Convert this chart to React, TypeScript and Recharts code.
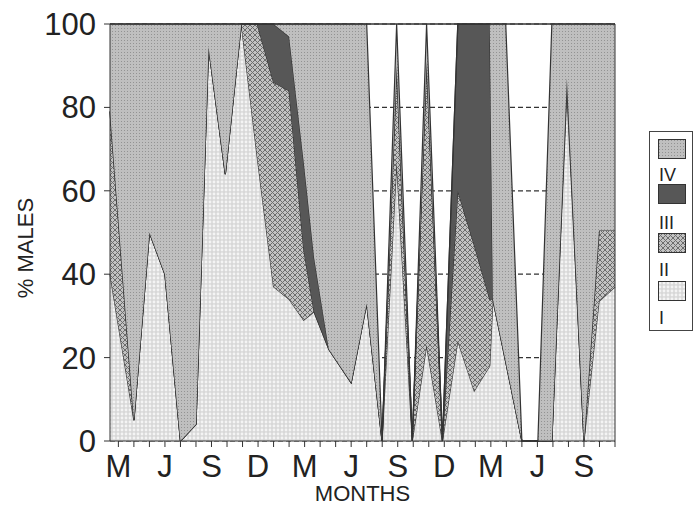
import React from 'react';
import { AreaChart, Area, XAxis, YAxis, CartesianGrid, ReferenceLine, Label } from 'recharts';

// sample positions in months from the first March tick (irregular sampling dates)
const monthPos = [-0.54, 1, 2, 3, 4, 5, 5.81, 6.89, 7.92, 8.95, 10, 11, 11.94, 12.61, 13.56, 15, 16, 16.99, 17.93, 18.94, 19.86, 20.88, 21.87, 22.93, 23.93, 24.13, 24.96, 26, 27.03, 27.93, 28.9, 30, 30.97, 32];
// % males per age class (stacked)
const seriesI   = [40, 5, 50, 40, 0, 4, 94.5, 64, 100, 68, 37, 34, 29, 31, 22, 14, 33, 0, 67, 0, 23, 0, 24, 12, 18, 34, 19, 0, 0, 0, 84, 0, 33.5, 37];
const seriesII  = [39, 0, 0, 0, 0, 0, 0, 0, 0, 32, 49, 50, 17, 0, 0, 0, 0, 0, 23, 0, 68, 0, 36, 35, 16, 0, 0, 0, 0, 0, 3, 0, 17, 13.5];
const seriesIII = [0, 0, 0, 0, 0, 0, 0, 0, 0, 0, 14, 13, 21, 13, 0, 0, 0, 0, 0, 0, 0, 0, 40, 53, 66, 0, 0, 0, 0, 0, 0, 0, 0, 0];
const seriesIV  = [21, 95, 50, 60, 100, 96, 5.5, 36, 0, 0, 0, 3, 33, 56, 78, 86, 67, 0, 10, 0, 9, 0, 0, 0, 0, 66, 81, 0, 0, 100, 13, 100, 49.5, 49.5];

const monthTicks = [0, 1, 2, 3, 4, 5, 6, 7, 8, 9, 10, 11, 12, 13, 14, 15, 16, 17, 18, 19, 20, 21, 22, 23, 24, 25, 26, 27, 28, 29, 30, 31, 32];
const monthLabels = ['M', 'J', 'S', 'D', 'M', 'J', 'S', 'D', 'M', 'J', 'S'];
const yTicks = [0, 20, 40, 60, 80, 100];
const legendLabels = ['IV', 'III', 'II', 'I'];
const legendFills = ['url(#pIV)', '#575757', 'url(#pII)', 'url(#pI)'];

const data = monthPos.map((m, i) => ({
  m,
  I: seriesI[i],
  II: seriesII[i],
  III: seriesIII[i],
  IV: seriesIV[i],
}));

const FONT = '"Liberation Sans", Arial, sans-serif';
const INK = '#333';

const YLabel = () => (
  <text
    x={25}
    y={248}
    transform="rotate(-90 25 248)"
    textAnchor="middle"
    dominantBaseline="central"
    fontSize={22}
    fontFamily={FONT}
    fill="#222"
  >
    % MALES
  </text>
);

export default function App() {
  const legendSwatchTops = [7, 52, 101, 149];
  const legendLabelTops = [34, 82, 129, 177];
  return (
    <div style={{ position: 'relative', width: 695, height: 507, overflow: 'hidden', fontFamily: FONT }}>
      <style>{'html,body{margin:0;padding:0;overflow:hidden;}'}</style>
      <AreaChart
        width={695}
        height={507}
        data={data}
        margin={{ top: 24, right: 72, left: 8, bottom: 0 }}
      >
        <defs>
          <pattern id="pI" width="4" height="4" patternUnits="userSpaceOnUse">
            <rect width="4" height="4" fill="#d8d8d8" />
            <circle cx="2" cy="2" r="1.4" fill="#f4f4f4" />
          </pattern>
          <pattern id="pIV" width="3" height="3" patternUnits="userSpaceOnUse">
            <rect width="3" height="3" fill="#bfbfbf" />
            <rect x="1" y="1" width="1" height="1" fill="#939393" />
          </pattern>
          <pattern id="pII" width="5" height="5" patternUnits="userSpaceOnUse">
            <rect width="5" height="5" fill="#c2c2c2" />
            <path d="M0,0 L5,5 M5,0 L0,5" stroke="#6c6c6c" strokeWidth="1" />
          </pattern>
        </defs>
        <CartesianGrid vertical={false} stroke={INK} strokeDasharray="5 3" strokeWidth={1.2} />
        <XAxis
          dataKey="m"
          type="number"
          domain={[-0.54, 32]}
          ticks={monthTicks}
          interval={0}
          tickFormatter={(v: number) => (v % 3 === 0 ? monthLabels[v / 3] : '')}
          height={66}
          tickSize={6}
          tickMargin={8}
          stroke={INK}
          tick={{ fontSize: 31, fill: '#222', fontFamily: FONT }}
        >
          <Label value="MONTHS" position="insideBottom" offset={6} style={{ fontSize: 22, fill: '#222', fontFamily: FONT }} />
        </XAxis>
        <YAxis
          domain={[0, 100]}
          ticks={yTicks}
          interval={0}
          width={102}
          tickSize={6}
          tickMargin={8}
          stroke={INK}
          tick={{ fontSize: 31, fill: '#222', fontFamily: FONT }}
        >
          <Label content={YLabel} />
        </YAxis>
        <YAxis
          yAxisId="r"
          orientation="right"
          domain={[0, 100]}
          ticks={yTicks}
          interval={0}
          width={8}
          tickSize={5}
          tickFormatter={() => ''}
          stroke={INK}
        />
        <Area type="linear" dataKey="I" stackId="s" fill="url(#pI)" fillOpacity={1} stroke={INK} strokeWidth={1.2} isAnimationActive={false} dot={false} activeDot={false} />
        <Area type="linear" dataKey="II" stackId="s" fill="url(#pII)" fillOpacity={1} stroke={INK} strokeWidth={1.2} isAnimationActive={false} dot={false} activeDot={false} />
        <Area type="linear" dataKey="III" stackId="s" fill="#575757" fillOpacity={1} stroke={INK} strokeWidth={1.2} isAnimationActive={false} dot={false} activeDot={false} />
        <Area type="linear" dataKey="IV" stackId="s" fill="url(#pIV)" fillOpacity={1} stroke={INK} strokeWidth={1.2} isAnimationActive={false} dot={false} activeDot={false} />
        <ReferenceLine y={100} stroke={INK} strokeWidth={1.5} />
      </AreaChart>
      <div
        style={{
          position: 'absolute',
          left: 649,
          top: 131,
          width: 44,
          height: 200,
          border: '1px solid #444',
          boxSizing: 'border-box',
          background: '#fff',
        }}
      >
        {legendLabels.map((lab, i) => (
          <React.Fragment key={lab}>
            <svg
              width={28}
              height={20}
              style={{ position: 'absolute', left: 8, top: legendSwatchTops[i] }}
            >
              <rect x={0.5} y={0.5} width={27} height={19} fill={legendFills[i]} stroke={INK} strokeWidth={1} />
            </svg>
            <div
              style={{
                position: 'absolute',
                left: 9,
                top: legendLabelTops[i],
                fontSize: 18,
                lineHeight: '18px',
                color: '#222',
              }}
            >
              {lab}
            </div>
          </React.Fragment>
        ))}
      </div>
    </div>
  );
}
